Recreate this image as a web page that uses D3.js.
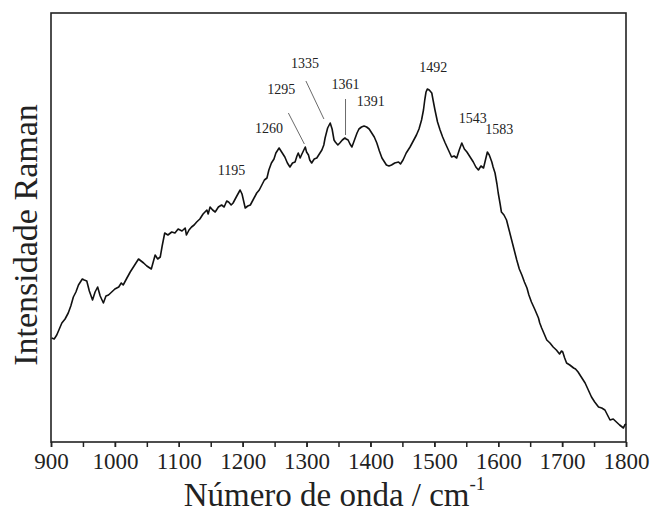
<!DOCTYPE html>
<html>
<head>
<meta charset="UTF-8">
<title>Espectro Raman</title>
<style>
    body { margin: 0; background: #ffffff; }
    svg { display: block; font-family: "Liberation Serif", "Times New Roman", serif; }
</style>
</head>
<body>
<svg id="chart" width="653" height="512"></svg>
<script src="https://cdn.jsdelivr.net/npm/d3@7/dist/d3.min.js"></script>
<script>
// wavenumber (cm-1) and intensity (a.u.)
var wavenumber = [901, 905, 909, 913, 917, 922, 927, 931, 935, 939, 943, 946, 949, 952, 956, 960, 965, 969, 973, 977,
    982, 986, 990, 995, 1000, 1006, 1010, 1013, 1018, 1024, 1030, 1037, 1041, 1045, 1050, 1057, 1060, 1063, 1067, 1071,
    1074, 1078, 1083, 1089, 1094, 1099, 1105, 1110, 1112, 1116, 1120, 1124, 1128, 1133, 1138, 1144, 1146, 1149, 1153, 1157,
    1162, 1167, 1171, 1175, 1178, 1182, 1185, 1190, 1196, 1199, 1204, 1208, 1212, 1217, 1222, 1226, 1230, 1234, 1238, 1241,
    1245, 1249, 1252, 1255, 1257, 1261, 1266, 1270, 1274, 1278, 1282, 1285, 1287, 1290, 1292, 1295, 1298, 1300, 1303, 1305,
    1308, 1312, 1316, 1320, 1324, 1327, 1329, 1333, 1337, 1340, 1343, 1345, 1349, 1352, 1356, 1360, 1362, 1365, 1368, 1371,
    1375, 1379, 1382, 1386, 1390, 1394, 1398, 1402, 1406, 1410, 1414, 1418, 1422, 1425, 1429, 1433, 1438, 1444, 1447, 1451,
    1456, 1462, 1467, 1472, 1476, 1480, 1483, 1485, 1487, 1489, 1492, 1496, 1498, 1501, 1505, 1509, 1513, 1517, 1522, 1527,
    1531, 1535, 1539, 1543, 1547, 1551, 1556, 1561, 1565, 1569, 1573, 1577, 1580, 1583, 1586, 1590, 1592, 1595, 1598, 1600,
    1603, 1605, 1609, 1613, 1617, 1621, 1625, 1629, 1633, 1637, 1641, 1645, 1648, 1652, 1657, 1663, 1665, 1668, 1672, 1676,
    1681, 1686, 1691, 1696, 1699, 1701, 1704, 1707, 1712, 1718, 1721, 1725, 1730, 1736, 1741, 1746, 1751, 1757, 1762, 1767,
    1771, 1775, 1780, 1785, 1790, 1796, 1798, 1800];
var intensity = [104, 103, 107, 113, 119, 123, 129, 136, 145, 150, 157, 160, 163, 162, 161, 151, 142, 150, 155, 146,
    139, 146, 147, 150, 153, 155, 159, 157, 163, 170, 176, 183, 181, 179, 176, 173, 180, 187, 183, 185,
    196, 209, 207, 210, 209, 213, 211, 214, 207, 212, 215, 217, 220, 223, 228, 232, 228, 235, 232, 230,
    235, 237, 235, 241, 240, 237, 239, 245, 252, 248, 234, 236, 237, 243, 249, 252, 257, 262, 264, 272,
    279, 283, 289, 292, 294, 290, 285, 279, 275, 279, 280, 286, 289, 284, 287, 291, 295, 290, 287, 282,
    279, 283, 284, 288, 292, 297, 304, 314, 319, 313, 302, 300, 297, 299, 302, 304, 303, 302, 298, 295,
    302, 309, 313, 315, 316, 315, 313, 309, 305, 299, 291, 284, 280, 277, 276, 277, 279, 280, 278, 282,
    289, 295, 301, 307, 313, 322, 332, 342, 350, 353, 352, 349, 342, 332, 320, 312, 305, 299, 292, 285,
    286, 284, 292, 299, 293, 290, 285, 280, 275, 272, 276, 274, 282, 290, 287, 280, 275, 269, 258, 249,
    238, 230, 227, 222, 212, 202, 192, 182, 173, 167, 160, 154, 147, 140, 133, 124, 119, 114, 108, 102,
    99, 95, 92, 88, 91, 90, 84, 79, 77, 74, 73, 70, 65, 59, 52, 45, 40, 35, 34, 32,
    27, 22, 23, 20, 17, 14, 17, 18];

var xTicks = [900, 1000, 1100, 1200, 1300, 1400, 1500, 1600, 1700, 1800];
var peaks = ["1195", "1260", "1295", "1335", "1361", "1391", "1492", "1543", "1583"];
// label offset from the peak in px, and leader line ends where present
var peakLabelDx = [-8, -12, -22, -24, 0, 6, 4, 11, 12];
var peakLabelDy = [-15, -15, -53, -55, -49, -20, -17, -20, -18];
var peakLeader = [null, null, [-15, -34, 1, -3], [-23, -42, -5, -4], [0, -39, 0, -3], null, null, null, null];

var serif = "'Liberation Serif', 'Times New Roman', serif";

var margin = {top: 13, right: 27, bottom: 70, left: 51};
var width = 653 - margin.left - margin.right;
var height = 512 - margin.top - margin.bottom;

var svg = d3.select("#chart");
var g = svg.append("g").attr("transform", "translate(" + margin.left + "," + margin.top + ")");

var x = d3.scaleLinear().domain([900, 1800]).range([0, width]);
var y = d3.scaleLinear().domain([0, 429]).range([height, 0]);

var data = wavenumber.map(function(w, i) { return {w: w, v: intensity[i]}; });

// minor ticks every 50
g.append("g")
    .attr("transform", "translate(0," + height + ")")
    .call(d3.axisBottom(x).tickValues(d3.range(900, 1801, 50)).tickSize(5).tickFormat(""))
    .call(function(s) { s.select(".domain").remove(); })
    .selectAll("line").attr("stroke", "#222").attr("stroke-width", 1.5);

var xAxis = g.append("g")
    .attr("transform", "translate(0," + height + ")")
    .call(d3.axisBottom(x).tickValues(xTicks).tickSize(5).tickPadding(6).tickFormat(d3.format("d")));
xAxis.select(".domain").remove();
xAxis.attr("font-family", serif);
xAxis.selectAll("line").attr("stroke", "#222").attr("stroke-width", 1.5);
xAxis.selectAll("text")
    .attr("font-family", serif)
    .attr("font-size", 23)
    .attr("fill", "#222");

// frame
g.append("rect")
    .attr("width", width)
    .attr("height", height)
    .attr("fill", "none")
    .attr("stroke", "#222")
    .attr("stroke-width", 1.6);

var line = d3.line()
    .x(function(d) { return x(d.w); })
    .y(function(d) { return y(d.v); });

g.append("path")
    .datum(data)
    .attr("fill", "none")
    .attr("stroke", "#111")
    .attr("stroke-width", 1.6)
    .attr("stroke-linejoin", "round")
    .attr("d", line);

// peak labels
peaks.forEach(function(p, i) {
    var w = +p;
    var px = x(w);
    var py = y(d3.max(data.filter(function(d) { return Math.abs(d.w - w) <= 4; }), function(d) { return d.v; }));
    g.append("text")
        .attr("x", px + peakLabelDx[i])
        .attr("y", py + peakLabelDy[i])
        .attr("text-anchor", "middle")
        .attr("font-family", serif)
        .attr("font-size", 14)
        .attr("fill", "#222")
        .text(p);
    var l = peakLeader[i];
    if (l) {
        g.append("line")
            .attr("x1", px + l[0]).attr("y1", py + l[1])
            .attr("x2", px + l[2]).attr("y2", py + l[3])
            .attr("stroke", "#444")
            .attr("stroke-width", 0.8);
    }
});

// axis titles
var xt = svg.append("text")
    .attr("x", margin.left + width / 2 - 4)
    .attr("y", 506)
    .attr("text-anchor", "middle")
    .attr("font-family", serif)
    .attr("font-size", 33)
    .attr("fill", "#222");
xt.append("tspan").text("Número de onda / cm");
xt.append("tspan").attr("font-size", 19).attr("dy", -16).text("-1");

svg.append("text")
    .attr("transform", "translate(37,235) rotate(-90)")
    .attr("text-anchor", "middle")
    .attr("font-family", serif)
    .attr("font-size", 34)
    .attr("fill", "#222")
    .text("Intensidade Raman");
</script>
</body>
</html>
